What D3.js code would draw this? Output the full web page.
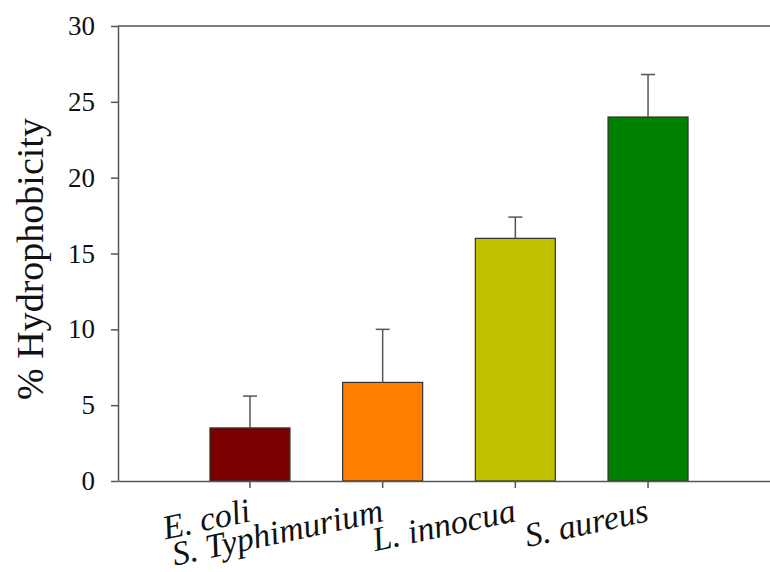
<!DOCTYPE html>
<html>
<head>
<meta charset="utf-8">
<script src="https://cdn.jsdelivr.net/npm/d3@7"></script>
<style>
	body { margin: 0; background: #fff; }
	svg { display: block; }
</style>
</head>
<body>
<svg width="770" height="572"></svg>
<script>
const species = ['E. coli', 'S. Typhimurium', 'L. innocua', 'S. aureus'];
const hydrophobicity = [3.5, 6.5, 16, 24];
const errors = [2.1, 3.5, 1.4, 2.8];
const colors = ['#7b0000', '#ff8000', '#c0c000', '#008000'];
const yTicks = [0, 5, 10, 15, 20, 25, 30];

const svg = d3.select('svg'),
	plotLeft = 118, plotRight = 780, plotTop = 26, plotBottom = 481;

const x = d3.scaleBand()
	.domain(species)
	.range([plotLeft, plotRight])
	.paddingInner(0.397)
	.paddingOuter(0.693);

const y = d3.scaleLinear().domain([0, 30]).range([plotBottom, plotTop]);

// top frame line
svg.append('line')
	.attr('x1', plotLeft).attr('x2', plotRight)
	.attr('y1', plotTop).attr('y2', plotTop)
	.attr('stroke', '#555').attr('stroke-width', 1.5);

// bars
svg.append('g').selectAll('rect')
	.data(species)
	.enter().append('rect')
	.attr('x', d => x(d))
	.attr('y', (d, i) => y(hydrophobicity[i]))
	.attr('width', x.bandwidth())
	.attr('height', (d, i) => y(0) - y(hydrophobicity[i]))
	.attr('fill', (d, i) => colors[i])
	.attr('stroke', '#333').attr('stroke-width', 1.2);

// error bars (upper only)
const err = svg.append('g').attr('stroke', '#555').attr('stroke-width', 1.5);
species.forEach((d, i) => {
	let cx = x(d) + x.bandwidth() / 2;
	err.append('line')
		.attr('x1', cx).attr('x2', cx)
		.attr('y1', y(hydrophobicity[i])).attr('y2', y(hydrophobicity[i] + errors[i]));
	err.append('line')
		.attr('x1', cx - 7).attr('x2', cx + 7)
		.attr('y1', y(hydrophobicity[i] + errors[i])).attr('y2', y(hydrophobicity[i] + errors[i]));
});

// y axis
const yAxis = svg.append('g')
	.attr('transform', `translate(${plotLeft},0)`)
	.call(d3.axisLeft(y).tickValues(yTicks).tickSize(7).tickPadding(16).tickSizeOuter(0));
yAxis.select('.domain').attr('stroke', '#555').attr('stroke-width', 1.5);
yAxis.selectAll('.tick line').attr('stroke', '#555').attr('stroke-width', 1.5);
yAxis.selectAll('.tick text')
	.attr('font-family', '"Liberation Serif", "Times New Roman", serif')
	.attr('font-size', 27).attr('fill', '#111');

// x axis
const xAxis = svg.append('g')
	.attr('transform', `translate(0,${plotBottom})`)
	.call(d3.axisBottom(x).tickSize(7).tickSizeOuter(0));
xAxis.select('.domain').attr('stroke', '#555').attr('stroke-width', 1.5);
xAxis.selectAll('.tick line').attr('stroke', '#555').attr('stroke-width', 1.5);
xAxis.selectAll('.tick text')
	.attr('font-family', '"Liberation Serif", "Times New Roman", serif')
	.attr('font-style', 'italic')
	.attr('font-size', 34).attr('fill', '#111')
	.attr('text-anchor', 'end')
	.attr('dy', null)
	.attr('y', null)
	.attr('transform', 'translate(2,40) rotate(-12)');

// y axis title
svg.append('text')
	.attr('transform', 'translate(43,259) rotate(-90)')
	.attr('text-anchor', 'middle')
	.attr('font-family', '"Liberation Serif", "Times New Roman", serif')
	.attr('font-size', 38).attr('fill', '#111')
	.text('% Hydrophobicity');
</script>
</body>
</html>
